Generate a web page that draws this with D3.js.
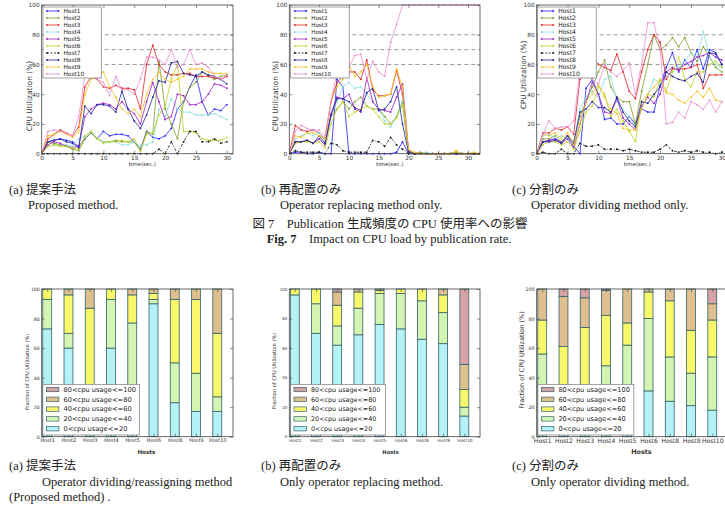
<!DOCTYPE html>
<html lang="ja">
<head>
<meta charset="UTF-8">
<title>Publication 生成頻度の CPU 使用率への影響</title>
<script src="https://cdn.jsdelivr.net/npm/d3@7"></script>
<style>
  body { margin: 0; background: #fff; }
  svg { display: block; }
  .cap { font-family: "Liberation Serif", "Noto Sans CJK JP", serif; font-size: 12.5px; fill: #222; }
</style>
</head>
<body>
<svg id="fig" width="725" height="524"></svg>
<script>
// ---------- values ----------
const hostNames = ["Host1", "Host2", "Host3", "Host4", "Host5", "Host6", "Host7", "Host8", "Host9", "Host10"];
const timeTicks = [0, 5, 10, 15, 20, 25, 30];
const pctTicks = [0, 20, 40, 60, 80, 100];
const thresholds = [60, 70, 80];

// (a) proposed method, one row per host, one value per second
const cpuProposed = [
  [0,8,9,10,9,8,5,10,14,10,15,12,13,13,12,8,3,15,11,10,12,17,30,35,45,53,35,26,30,29,33],
  [0,8,7,6,5,3,2,10,14,10,8,8,9,8,8,8,2,15,13,62,30,20,10,35,45,48,55,52,50,52,53],
  [0,10,13,16,14,12,18,45,52,50,45,44,46,44,44,43,30,60,73,60,55,53,53,54,54,52,52,52,51,50,52],
  [0,5,6,5,6,5,10,12,15,10,8,8,8,6,6,8,5,6,8,30,25,37,30,28,28,26,26,26,27,25,23],
  [0,6,8,7,5,4,5,25,30,33,34,33,30,35,30,27,20,35,48,35,23,25,40,39,33,33,35,40,47,46,44],
  [0,5,6,5,5,4,3,12,15,10,7,8,8,9,8,10,2,13,14,26,32,50,60,15,15,14,10,9,9,9,11],
  [0,0,0,0,0,0,0,0,0,0,0,0,0,0,0,0,0,0,0,3,0,8,0,8,15,15,8,8,10,7,8],
  [0,8,9,10,8,7,4,32,27,33,33,32,28,42,30,22,17,26,38,49,48,61,62,54,53,52,55,53,52,50,47],
  [0,12,13,15,13,11,15,40,50,52,55,45,38,30,27,30,25,40,50,55,50,48,50,52,57,57,57,55,54,54,54],
  [0,15,16,15,14,12,25,52,55,50,48,39,52,43,43,40,50,65,65,63,60,70,58,60,70,60,61,58,52,50,53]
];

// (b) operator replacing only
const cpuReplace = [
  [0,1,1,0,0,1,0,0,50,45,0,0,0,0,0,0,0,0,1,8,0,0,0,0,0,0,0,0,0,0,0,0,0],
  [0,8,8,9,7,10,6,25,30,35,30,35,38,32,30,30,25,20,25,35,1,0,1,0,0,0,0,0,1,0,0,0,0],
  [0,19,16,15,16,14,10,35,48,52,55,55,50,63,43,39,39,40,56,40,2,0,0,0,0,0,0,0,0,0,0,0,0],
  [0,10,12,14,12,14,8,26,35,45,48,44,45,40,35,30,22,18,25,36,2,0,0,1,0,0,0,0,0,0,0,0,0],
  [0,8,8,9,7,10,6,27,38,37,40,30,28,51,35,30,29,28,38,47,2,0,0,0,0,0,0,0,0,0,0,0,0],
  [0,7,8,8,7,8,4,20,30,35,25,28,30,32,30,25,20,20,24,33,1,0,0,0,0,0,0,0,1,0,0,0,0],
  [0,2,1,1,1,1,0,7,6,2,1,1,1,1,9,8,5,11,6,3,0,0,0,0,0,0,0,0,0,0,0,0,0],
  [0,8,8,9,7,12,7,26,37,37,35,31,29,41,44,29,30,35,45,20,1,0,0,0,0,0,0,0,0,0,0,0,0],
  [0,12,11,14,14,12,10,35,45,50,60,52,55,60,45,38,39,40,57,45,3,1,0,0,0,0,0,0,2,0,0,1,0],
  [0,15,19,17,16,16,12,35,55,55,58,66,67,50,62,55,52,75,87,100,100,100,100,100,100,100,100,100,100,100,100,100,100]
];

// (c) operator dividing only
const cpuDivide = [
  [0,8,9,10,8,12,5,0,44,50,40,23,24,20,20,25,20,30,28,28,46,58,68,55,63,58,70,57,70,68,60],
  [0,10,10,12,8,12,8,25,35,45,55,63,45,38,35,35,20,42,60,80,70,73,78,72,78,68,62,72,65,58,55],
  [0,14,14,17,16,18,13,50,62,65,60,58,56,67,55,42,37,55,70,80,75,50,57,57,57,58,60,44,53,53,53],
  [0,12,13,10,12,10,6,30,38,42,38,50,52,35,30,25,18,30,40,50,48,52,55,58,62,68,65,82,65,60,58],
  [0,8,9,10,7,10,4,20,35,48,40,28,27,37,24,20,16,32,38,34,40,55,58,56,60,62,65,66,68,65,63],
  [0,6,8,8,6,8,3,15,28,32,45,40,25,30,22,15,8,35,40,38,50,42,55,65,50,45,55,55,60,62,58],
  [0,1,0,0,3,0,0,7,5,5,6,3,3,3,2,3,2,1,1,1,3,6,2,1,2,1,2,1,1,0,1],
  [0,8,8,9,7,12,7,28,30,35,31,31,28,38,28,22,18,35,34,40,45,55,52,50,49,52,54,48,68,67,60],
  [0,13,12,14,10,14,6,20,35,40,47,38,30,27,17,16,16,30,40,45,50,41,40,36,34,38,42,38,44,36,35],
  [0,13,22,17,18,18,22,55,55,50,47,60,55,52,56,61,40,60,88,88,70,20,21,28,24,35,33,30,36,28,35]
];

// stacked bars: share of time (%) in each usage bucket, per host
const barHosts = ["Host1", "Host2", "Host3", "Host4", "Host5", "Host6", "Host8", "Host9", "Host10"];
const bucketLabels = ["0<cpu usage<=20", "20<cpu usage<=40", "40<cpu usage<=60", "60<cpu usage<=80", "80<cpu usage<=100"];
const fracProposed = [
  [73,20,7,0,0], [60,10,26,4,0], [12,20,55,13,0], [60,33,7,0,0], [30,47,19,4,0],
  [90,3,4,3,0], [23,27,43,7,0], [17,26,50,7,0], [17,10,43,30,0]
];
const fracReplace = [
  [96,0,4,0,0], [70,20,10,0,0], [62,13,14,9,2], [69,18,11,2,0], [76,21,2,1,0],
  [73,24,3,0,0], [66,26,8,0,0], [63,21,12,4,0], [14,6,12,17,51]
];
const fracDivide = [
  [20,36,23,21,0], [10,25,26,34,5], [10,22,42,20,6], [18,30,34,17,1], [25,37,15,23,0],
  [31,49,18,2,0], [24,30,38,8,0], [21,22,29,28,0], [18,36,25,11,10]
];

// captions
const subLabels = ["(a) 提案手法", "(b) 再配置のみ", "(c) 分割のみ"];
const topNotes = ["Proposed method.", "Operator replacing method only.", "Operator dividing method only."];
const bottomNotes = ["Operator dividing/reassigning method", "Only operator replacing method.", "Only operator dividing method."];

// ---------- styles & layout ----------
const svg = d3.select("#fig");
const sans = "'DejaVu Sans', sans-serif";
const hostColors = ["#2020ff", "#7d9a2c", "#e02424", "#88dede", "#a020c8", "#bcd21e", "#111111", "#22229a", "#f2c21c", "#ea8ed2"];
const bucketColors = ["#b4f2f6", "#d4f5b2", "#f8f86a", "#dfbf8e", "#d9a3a6"];
const panelLeft = [41.7, 289.3, 536.7];
const panelWidth = [191.3, 190.7, 191.3];

function axesAndFrame(g, x, y, xTicks, yTicks, xFmt, fx, fy) {
  const [yb, yt] = y.range();
  const [xl, xr] = x.range();
  const style = a => a.attr("color", "#444")
    .call(s => s.select(".domain").remove())
    .call(s => s.selectAll("line").attr("stroke-width", 0.6))
    .call(s => s.selectAll("text").attr("font-family", sans).attr("fill", "#333"));
  g.append("g").attr("transform", `translate(0,${yb})`)
    .call(d3.axisBottom(x).tickValues(xTicks).tickSize(-3).tickPadding(2).tickFormat(xFmt))
    .call(style).selectAll("text").attr("font-size", fx);
  g.append("g").attr("transform", `translate(0,${yt})`)
    .call(d3.axisTop(x).tickValues(xTicks).tickSize(-3).tickFormat(""))
    .call(style);
  g.append("g").attr("transform", `translate(${xl},0)`)
    .call(d3.axisLeft(y).tickValues(yTicks).tickSize(-3).tickPadding(2))
    .call(style).selectAll("text").attr("font-size", fy);
  g.append("g").attr("transform", `translate(${xr},0)`)
    .call(d3.axisRight(y).tickValues(yTicks).tickSize(-3).tickFormat(""))
    .call(style);
  g.append("rect").attr("x", xl).attr("y", yt).attr("width", xr - xl).attr("height", yb - yt)
    .attr("fill", "none").attr("stroke", "#444").attr("stroke-width", 0.8);
}

// ---------- line charts (top row) ----------
const lineSets = [cpuProposed, cpuReplace, cpuDivide];
const lineXMax = [31, 32, 31];
const lineText = [
  { tick: 5.8, leg: 5.8, ylab: 7.5, ylabDx: -12.4, ylabY: 96, legDx: 1.3 },
  { tick: 5.8, leg: 5.6, ylab: 7.5, ylabDx: -14.3, ylabY: 96, legDx: 1.4 },
  { tick: 5.8, leg: 6.1, ylab: 7.3, ylabDx: -13.7, ylabY: 75, legDx: 1.0 }
];

lineSets.forEach((series, k) => {
  const x0 = panelLeft[k], w = panelWidth[k], st = lineText[k];
  const x = d3.scaleLinear().domain([0, lineXMax[k]]).range([x0, x0 + w]);
  const y = d3.scaleLinear().domain([0, 100]).range([153.7, 5]);
  const g = svg.append("g");

  g.append("clipPath").attr("id", "clipL" + k).append("rect")
    .attr("x", x0).attr("y", 4).attr("width", w).attr("height", 151);

  // threshold guides
  g.selectAll(".thr").data(thresholds).join("line")
    .attr("x1", x0).attr("x2", x0 + w).attr("y1", d => y(d)).attr("y2", d => y(d))
    .attr("stroke", "#808080").attr("stroke-width", 0.8).attr("stroke-dasharray", "4,3");

  const line = d3.line().x((d, i) => x(i)).y(d => y(d));
  series.forEach((vals, h) => {
    const s = g.append("g").attr("clip-path", `url(#clipL${k})`);
    s.append("path").attr("d", line(vals)).attr("fill", "none")
      .attr("stroke", hostColors[h]).attr("stroke-width", 0.8)
      .attr("stroke-dasharray", h === 6 ? "3,1.5,1,1.5" : null);
    s.selectAll("circle").data(vals).join("circle")
      .attr("cx", (d, i) => x(i)).attr("cy", d => y(d)).attr("r", 0.9)
      .attr("fill", hostColors[h]);
  });

  axesAndFrame(g, x, y, timeTicks, pctTicks, d3.format("d"), st.tick, st.tick);

  g.append("text").attr("x", x0 + w / 2 + 5).attr("y", 166)
    .attr("text-anchor", "middle").attr("font-family", sans).attr("font-size", 5.4)
    .attr("fill", "#333").text("time(sec.)");
  g.append("text").attr("transform", `translate(${x0 + st.ylabDx},${st.ylabY}) rotate(-90)`)
    .attr("text-anchor", "middle").attr("dy", "0.35em").attr("font-family", sans)
    .attr("font-size", st.ylab).attr("fill", "#333").text("CPU Utilization (%)");

  // legend
  const lx = x0 + st.legDx;
  g.append("rect").attr("x", lx).attr("y", 7).attr("width", 58.5).attr("height", 71)
    .attr("fill", "#fff").attr("stroke", "#666").attr("stroke-width", 0.6);
  hostNames.forEach((name, h) => {
    const ry = 11 + h * 7;
    g.append("line").attr("x1", lx + 4).attr("x2", lx + 15.5).attr("y1", ry).attr("y2", ry)
      .attr("stroke", hostColors[h]).attr("stroke-width", 0.8)
      .attr("stroke-dasharray", h === 6 ? "2,1.5" : null);
    [lx + 4, lx + 15.5].forEach(cx => g.append("circle").attr("cx", cx).attr("cy", ry)
      .attr("r", 0.9).attr("fill", hostColors[h]));
    g.append("text").attr("x", lx + 20.5).attr("y", ry).attr("dy", "0.35em")
      .attr("font-family", sans).attr("font-size", st.leg).attr("fill", "#222").text(name);
  });
});

// ---------- stacked bar charts (bottom row) ----------
const barSets = [fracProposed, fracReplace, fracDivide];
const barText = [
  { tick: 4.6, host: 5.0, hosts: 5.6, hostsDx: 9, ylab: 5.1, ylabDx: -14.5, ylabY: 372, leg: 6.7, legW: 96.6 },
  { tick: 4.0, host: 4.3, hosts: 5.2, hostsDx: 6, ylab: 5.1, ylabDx: -15, ylabY: 371, leg: 6.4, legW: 95 },
  { tick: 4.9, host: 6.1, hosts: 6.4, hostsDx: 9, ylab: 6.5, ylabDx: -15, ylabY: 360, leg: 6.6, legW: 96 }
];
const barOffset = 0.05, barWidth = 0.42;

barSets.forEach((rows, k) => {
  const x0 = panelLeft[k], w = panelWidth[k], st = barText[k];
  const x = d3.scaleLinear().domain([0, 9]).range([x0, x0 + w]);
  const y = d3.scaleLinear().domain([0, 100]).range([436.7, 289]);
  const g = svg.append("g");

  const stacked = d3.stack().keys(d3.range(bucketLabels.length))(rows);
  stacked.forEach((layer, b) => {
    g.selectAll(null).data(layer.filter(p => p[1] > p[0])).join("rect")
      .attr("x", p => x(rows.indexOf(p.data) + barOffset))
      .attr("width", x(barWidth) - x(0))
      .attr("y", p => y(p[1]))
      .attr("height", p => y(p[0]) - y(p[1]))
      .attr("fill", bucketColors[b]).attr("stroke", "#35626c").attr("stroke-width", 0.8);
  });

  const centers = barHosts.map((h, i) => i + barOffset + barWidth / 2);
  axesAndFrame(g, x, y, centers, pctTicks, (d, i) => barHosts[i], st.host, st.tick);

  g.append("text").attr("x", x0 + w / 2 + st.hostsDx).attr("y", 452).attr("dy", "0.35em")
    .attr("text-anchor", "middle").attr("font-family", sans).attr("font-size", st.hosts)
    .attr("font-weight", "bold").attr("fill", "#333").text("Hosts");
  g.append("text").attr("transform", `translate(${x0 + st.ylabDx},${st.ylabY}) rotate(-90)`)
    .attr("text-anchor", "middle").attr("dy", "0.35em").attr("font-family", sans)
    .attr("font-size", st.ylab).attr("fill", "#333").text("Fraction of CPU Utilization (%)");

  // legend, highest bucket on top
  const lx = x0 + 1.2;
  g.append("rect").attr("x", lx).attr("y", 384.3).attr("width", st.legW).attr("height", 50.7)
    .attr("fill", "#fff").attr("stroke", "#666").attr("stroke-width", 0.6);
  d3.range(bucketLabels.length).reverse().forEach((b, j) => {
    const ry = 389.5 + j * 9.8;
    g.append("rect").attr("x", lx + 3.5).attr("y", ry - 2.2).attr("width", 12.5).attr("height", 4.4)
      .attr("fill", bucketColors[b]).attr("stroke", "#35626c").attr("stroke-width", 0.7);
    g.append("text").attr("x", lx + 20.5).attr("y", ry).attr("dy", "0.35em")
      .attr("font-family", sans).attr("font-size", st.leg).attr("fill", "#222").text(bucketLabels[b]);
  });
});

// ---------- captions ----------
const capX = [9, 261, 512];
const noteX = [28, 280, 531];
const cap = svg.append("g").attr("class", "cap");
subLabels.forEach((t, k) => {
  cap.append("text").attr("x", capX[k]).attr("y", 194).text(t);
  cap.append("text").attr("x", noteX[k]).attr("y", 209).text(topNotes[k]);
  cap.append("text").attr("x", capX[k]).attr("y", 470).text(t);
  cap.append("text").attr("x", k === 0 ? 42 : noteX[k]).attr("y", 486).text(bottomNotes[k]);
});
cap.append("text").attr("x", 9).attr("y", 501).text("(Proposed method) .");
cap.append("text").attr("x", 390).attr("y", 228).attr("text-anchor", "middle")
  .text("図 7\u2003Publication 生成頻度の CPU 使用率への影響");
const fig = cap.append("text").attr("x", 389).attr("y", 243).attr("text-anchor", "middle");
fig.append("tspan").attr("font-weight", "bold").text("Fig. 7");
fig.append("tspan").text("\u2003Impact on CPU load by publication rate.");
</script>
</body>
</html>
